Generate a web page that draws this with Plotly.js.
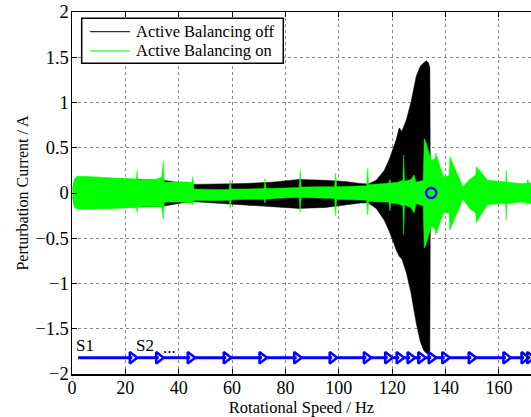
<!DOCTYPE html>
<html><head><meta charset="utf-8">
<script src="https://cdn.plot.ly/plotly-3.0.1.min.js"></script>
<style>html,body{margin:0;padding:0;overflow:hidden;background:#fff}</style>
</head><body><div id="chart" style="width:531px;height:417px"></div>
<script>
// Active Balancing off (black) envelope
const offX   = [0.3, 1, 2, 20, 33.5, 34.5, 40, 45, 55, 65, 75, 85, 95, 103, 108, 111, 114, 117, 119, 121.5, 122.6, 123.6, 125.3, 127, 129, 130.5, 131.8, 132.8, 133.6, 134.1, 134.3, 172];
const offTop = [0.05, 0.15, 0.17, 0.15, 0.14, 0.14, 0.115, 0.095, 0.10, 0.105, 0.12, 0.15, 0.14, 0.125, 0.105, 0.10, 0.14, 0.25, 0.38, 0.59, 0.72, 0.68, 0.81, 1.0, 1.29, 1.40, 1.44, 1.46, 1.44, 1.38, 0.04, 0.04];
const offBot = [-0.05, -0.15, -0.17, -0.155, -0.15, -0.14, -0.115, -0.095, -0.11, -0.13, -0.15, -0.17, -0.16, -0.13, -0.11, -0.11, -0.17, -0.30, -0.43, -0.63, -0.70, -0.73, -0.88, -1.10, -1.44, -1.64, -1.74, -1.77, -1.78, -1.74, -0.04, -0.04];

// Active Balancing on (green) envelope
const onX   = [0.3, 0.8, 2, 8, 16, 24.1, 24.4, 24.7, 31, 33.6, 34.2, 34.6, 40, 44.9, 45.3, 45.7, 52, 58.9, 59.3, 59.7, 66, 72, 72.3, 72.7, 79, 85.1, 85.5, 85.9, 92, 98.4, 98.8, 99.2, 105, 110.4, 110.8, 111.2, 115, 118.8, 119.1, 119.5, 122, 124.0, 124.3, 124.6, 127, 128.2, 128.9, 131.6, 132.0, 132.4, 134.7, 136.1, 136.3, 139.2, 141.3, 141.6, 146.5, 149, 151.3, 151.5, 153, 155.8, 160, 162.5, 162.7, 163, 168, 170.5, 170.8, 171.2, 172];
const onTop = [0.05, 0.15, 0.185, 0.18, 0.165, 0.155, 0.25, 0.15, 0.15, 0.17, 0.35, 0.12, 0.125, 0.12, 0.18, 0.045, 0.04, 0.04, 0.14, 0.045, 0.045, 0.05, 0.16, 0.05, 0.055, 0.06, 0.25, 0.065, 0.07, 0.07, 0.22, 0.07, 0.075, 0.08, 0.27, 0.09, 0.10, 0.11, 0.15, 0.11, 0.12, 0.14, 0.42, 0.13, 0.15, 0.20, 0.12, 0.14, 0.60, 0.58, 0.36, 0.38, 0.44, 0.18, 0.19, 0.40, 0.07, 0.15, 0.20, 0.29, 0.24, 0.14, 0.13, 0.125, 0.25, 0.12, 0.105, 0.11, 0.15, 0.11, 0.11];
const onBot = [-0.05, -0.15, -0.18, -0.18, -0.17, -0.16, -0.21, -0.155, -0.15, -0.155, -0.29, -0.10, -0.10, -0.11, -0.13, -0.08, -0.085, -0.08, -0.17, -0.075, -0.07, -0.07, -0.11, -0.065, -0.055, -0.05, -0.21, -0.05, -0.055, -0.06, -0.25, -0.07, -0.075, -0.08, -0.24, -0.09, -0.10, -0.10, -0.20, -0.11, -0.12, -0.14, -0.46, -0.13, -0.16, -0.22, -0.12, -0.14, -0.61, -0.59, -0.37, -0.40, -0.46, -0.22, -0.22, -0.41, -0.07, -0.17, -0.22, -0.33, -0.25, -0.13, -0.12, -0.12, -0.30, -0.12, -0.10, -0.11, -0.13, -0.11, -0.11];

// Step sequence (blue arrows)
const stepStart = [2.3, 24.6, 34.5, 46, 59.5, 73, 86, 99.6, 112, 119.8, 124, 128, 132, 136, 141.5, 151.5, 164.5, 170.5];
const stepEnd   = [22.6, 32.5, 44.3, 57.8, 71.2, 84.2, 97.5, 110.3, 118.3, 122.6, 126.7, 130.7, 134.6, 139.7, 149.6, 162.6, 169.4, 171.5];
const stepLevel = -1.82;
const markX = [134.6], markY = [0.0];
const labels = ["S1", "S2", "..."];
const labelX = [0.6, 23.4, 33.2];
const labelY = [-1.81, -1.81, -1.83];

const seriesNames = ["Active Balancing off", "Active Balancing on"];
const seriesColors = ["#000000", "#00ff00"];

function envelope(x, top, bot) {
  return { x: x.concat(x.slice().reverse()), y: top.concat(bot.slice().reverse()) };
}
const offEnv = envelope(offX, offTop, offBot);
const onEnv = envelope(onX, onTop, onBot);

const segX = [], segY = [];
stepStart.forEach((s, i) => { segX.push(s, stepEnd[i], null); segY.push(stepLevel, stepLevel, null); });

const serif = "Liberation Serif, Times New Roman, serif";
const data = [
  { x: offEnv.x, y: offEnv.y, type: 'scatter', mode: 'lines', fill: 'toself', fillcolor: seriesColors[0], line: {color: seriesColors[0], width: 0.5}, name: seriesNames[0], showlegend: false, hoverinfo: 'skip' },
  { x: onEnv.x, y: onEnv.y, type: 'scatter', mode: 'lines', fill: 'toself', fillcolor: seriesColors[1], line: {color: seriesColors[1], width: 0.5}, name: seriesNames[1], showlegend: false, hoverinfo: 'skip' },
  { x: segX, y: segY, type: 'scatter', mode: 'lines', line: {color: '#0000ff', width: 3}, showlegend: false },
  { x: stepEnd, y: stepEnd.map(() => stepLevel), type: 'scatter', mode: 'markers', marker: {symbol: 'triangle-right-open', size: 10, color: '#0000ff', line: {width: 2.5, color: '#0000ff'}}, showlegend: false },
  { x: markX, y: markY, type: 'scatter', mode: 'markers', marker: {symbol: 'circle-open', size: 10, color: '#0000ff', line: {width: 2.5, color: '#0000ff'}}, showlegend: false }
];

// legend drawn as a boxed key (paper coordinates)
const legBox = {x0: 0.0211, x1: 0.4603, y0: 0.8583, y1: 0.9826};
const legRowY = [0.9456, 0.8923];
const legLineX = [0.0392, 0.1264];
const legTextX = 0.1373;

const shapes = [
  {type: 'rect', xref: 'paper', yref: 'paper', x0: legBox.x0, x1: legBox.x1, y0: legBox.y0, y1: legBox.y1, fillcolor: '#fff', line: {color: '#000', width: 1.5}, layer: 'above'}
].concat(seriesNames.map((n, i) => ({type: 'line', xref: 'paper', yref: 'paper', x0: legLineX[0], x1: legLineX[1], y0: legRowY[i], y1: legRowY[i], line: {color: seriesColors[i], width: 1}, layer: 'above'})));

const annotations = labels.map((t, i) => ({x: labelX[i], y: labelY[i], text: t, showarrow: false, xanchor: 'left', yanchor: 'bottom', font: {family: serif, size: 17, color: '#000'}}))
  .concat(seriesNames.map((n, i) => ({xref: 'paper', yref: 'paper', x: legTextX, y: legRowY[i], text: n, showarrow: false, xanchor: 'left', yanchor: 'middle', borderpad: 0, font: {family: serif, size: 16.5, color: '#000'}})));

const layout = {
  width: 531, height: 417,
  margin: {l: 72, r: 0, t: 12, b: 43},
  paper_bgcolor: '#fff', plot_bgcolor: '#fff',
  font: {family: serif, size: 17, color: '#000'},
  showlegend: false,
  xaxis: {
    range: [0, 172], tickvals: [0, 20, 40, 60, 80, 100, 120, 140, 160],
    showgrid: true, gridcolor: '#888', griddash: 'dot', gridwidth: 1,
    zeroline: false, showline: true, linecolor: '#000', linewidth: 1.5, mirror: 'allticks',
    ticks: 'inside', ticklen: 5, tickcolor: '#000', tickfont: {family: serif, size: 18}, ticklabelstandoff: -3,
    title: {text: 'Rotational Speed / Hz', font: {family: serif, size: 16.5}, standoff: 0}
  },
  yaxis: {
    range: [-2, 2], dtick: 0.5, tick0: 0,
    showgrid: true, gridcolor: '#888', griddash: 'dot', gridwidth: 1,
    zeroline: false, showline: true, linecolor: '#000', linewidth: 1.5, mirror: false,
    ticks: 'inside', ticklen: 5, tickcolor: '#000', tickfont: {family: serif, size: 18.5}, ticklabelstandoff: -2,
    title: {text: 'Perturbation Current / A', font: {family: serif, size: 16}, standoff: 2}
  },
  shapes: shapes,
  annotations: annotations
};

Plotly.newPlot('chart', data, layout, {staticPlot: true, displayModeBar: false});
</script></body></html>
